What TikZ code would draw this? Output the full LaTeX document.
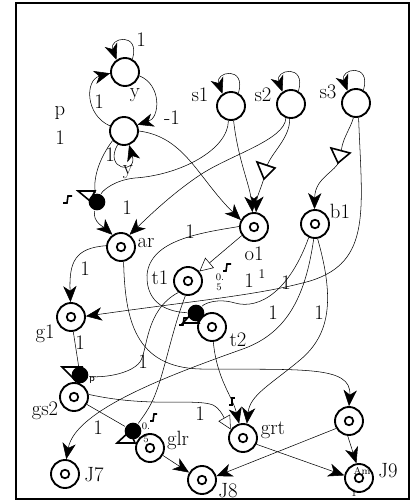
\documentclass[tikz,border=0pt]{standalone}
\usetikzlibrary{arrows.meta,backgrounds}
\begin{document}
\begin{tikzpicture}[x=0.75pt,y=-0.75pt, line width=1.4pt,
  place/.style={circle,draw,minimum size=21pt,inner sep=0pt,fill=white},
  tok/.style={place,path picture={\draw[line width=1.3pt] (path picture bounding box.center) circle (3.2pt);}},
  trans/.style={circle,fill=black,minimum size=12.5pt,inner sep=0pt},
  lbl/.style={font=\fontsize{15.5}{17}\selectfont,inner sep=0pt},
  sm/.style={font=\fontsize{7.5}{8}\selectfont,inner sep=0pt},
  arr/.style={-{Stealth[length=12pt,width=10pt,inset=3.5pt]}},
  oarr/.style={-{Triangle[open,length=10pt,width=10pt]}},
  otri/.style={draw,fill=white,line width=1.2pt},
  glyph/.style={line width=1.2pt},
]
\useasboundingbox (0,0) rectangle (412,502);
\draw[line width=1.6pt] (16,3) rectangle (409,499);

% places
\node[place] (T) at (125,72) {};
\node[place] (B) at (124,131) {};
\node[place] (s1) at (231,106) {};
\node[place] (s2) at (291,104) {};
\node[place] (s3) at (356,103) {};
\node[tok] (ar) at (121,247) {};
\node[tok] (o1) at (254,227) {};
\node[tok] (b1) at (315,224) {};
\node[tok] (t1) at (188,281) {};
\node[tok] (g1) at (71,317) {};
\node[tok] (t2) at (212,327) {};
\node[tok] (gs2) at (74,397) {};
\node[tok] (glr) at (150,448) {};
\node[tok] (J7) at (65,474) {};
\node[tok] (grt) at (243,438) {};
\node[tok] (J8) at (202,480) {};
\node[tok] (N) at (349,421) {};
\node[tok] (J9) at (359,478) {};

% transitions (with their open triangles)
\draw[otri] (78,191) -- (95,191) -- (90,201) -- cycle;
\node[trans] (D1) at (97,202) {};
\draw[otri] (183,323) -- (199,323) -- (193,312) -- cycle;
\node[trans] (D2) at (196,313) {};
\draw[otri] (62,367) -- (82,367) -- (76,381) -- cycle;
\node[trans] (D3) at (80,375) {};
\draw[otri] (117,443) -- (135,443) -- (130,431) -- cycle;
\node[trans] (D4) at (133,431) {};

\begin{pgfonlayer}{background}
% loops
\draw[arr] (T.60) .. controls +(8,-28) and +(-8,-22) .. (T.125);
\draw[arr] (s1.60) .. controls +(8,-28) and +(-8,-22) .. (s1.125);
\draw[arr] (s2.60) .. controls +(8,-28) and +(-8,-22) .. (s2.125);
\draw[arr] (s3.60) .. controls +(8,-28) and +(-8,-22) .. (s3.125);
\draw[arr] (T.-15) .. controls (162,85) and (160,118) .. (B.25);
\draw[arr] (B.160) .. controls (85,115) and (85,80) .. (T.185);
\draw[arr] (B.-115) .. controls (103,170) and (138,175) .. (B.-70);

% arcs
\draw[arr] (B.0) .. controls (185,137) and (198,178) .. (o1.152);
\draw[arr] (s1.-80) .. controls (238,160) and (250,185) .. (o1.96);
\draw[arr] (s2.-95) .. controls (290,140) and (268,155) .. (266,170) .. controls (263,185) and (257,195) .. (o1.82);
\draw (s1.-100) .. controls (228,150) and (180,175) .. (135,178) .. controls (115,180) and (103,190) .. (D1);
\draw[arr] (s2.-110) .. controls (285,140) and (230,155) .. (200,175) .. controls (170,195) and (145,220) .. (ar.55);
\draw (B.-140) .. controls (98,160) and (93,180) .. (D1);
\draw[arr] (D1) .. controls (92,222) and (105,228) .. (ar.125);
\draw[arr] (s3.-100) .. controls (350,130) and (341,140) .. (341,155) .. controls (340,172) and (315,175) .. (b1.92);
\draw[arr] (s3.-80) .. controls (362,210) and (372,262) .. (310,281) .. controls (260,295) and (200,300) .. (g1.3);
\draw[arr] (ar.175) .. controls (75,248) and (69,262) .. (g1.92);
\draw[arr] (ar.-80) .. controls (125,320) and (135,367) .. (200,369) .. controls (300,370) and (352,365) .. (N.90);
\draw[oarr] (o1.215) -- (t1.40);
\draw (o1.178) .. controls (200,233) and (150,240) .. (147,275) .. controls (146,305) and (170,312) .. (D2);
\draw (b1.-115) .. controls (290,290) and (260,310) .. (235,303) .. controls (218,298) and (205,303) .. (D2);
\draw[arr] (b1.-95) .. controls (305,300) and (285,335) .. (240,350) .. controls (170,375) and (75,410) .. (J7.85);
\draw[arr] (b1.-80) .. controls (335,300) and (330,335) .. (300,360) .. controls (270,385) and (250,395) .. (grt.75);
\draw (t1.-130) .. controls (145,310) and (148,350) .. (140,362) .. controls (130,375) and (100,378) .. (D3);
\draw (t1.-100) .. controls (172,330) and (165,370) .. (155,395) .. controls (150,408) and (142,418) .. (D4);
\draw (g1) -- (D3);
\draw (gs2) -- (D4);
\draw[oarr] (gs2.10) .. controls (150,408) and (195,398) .. (213,405) .. controls (220,409) and (222,414) .. (grt.145);
\draw[arr] (t2.-85) .. controls (217,380) and (232,395) .. (grt.105);
\draw[arr] (glr.-30) -- (J8.150);
\draw[arr] (grt.-25) -- (J9.170);
\draw[arr] (N.-150) -- (J8.15);
\draw[arr] (N.-95) -- (J9.100);
\end{pgfonlayer}

% open triangles on arcs
\draw[otri] (257,162) -- (275,168) -- (264,179) -- cycle;
\draw[otri] (331,148) -- (350,153) -- (338,163) -- cycle;
% glyphs
\draw[glyph] (63,203) -- (67,203) -- (68,196) -- (72,196);
\draw[glyph] (179,325) -- (183,325) -- (184,318) -- (187,318);
\draw[glyph] (223,271) -- (226,271) -- (227,264) -- (231,264);
\draw[glyph] (150,421) -- (153,421) -- (154,414) -- (157,414);
\draw[glyph] (229,405) -- (232,405) -- (232,398) -- (235,398);

% labels
\node[lbl] (lp) at (60,113) {p};
\node[lbl] (lp1) at (60,138) {1};
\node[lbl] (lT) at (141,40) {1};
\node[lbl] (ly1) at (135,95) {y};
\node[lbl] (lm1) at (172,118) {-1};
\node[lbl] (l11) at (99,102) {1};
\node[lbl] (lB1) at (110,155) {1};
\node[lbl] (ly2) at (128,172) {y};
\node[lbl] (ls1) at (200,95) {s1};
\node[lbl] (ls2) at (263,95) {s2};
\node[lbl] (ls3) at (328,92) {s3};
\node[lbl] (lar) at (146,243) {ar};
\node[lbl] (lo1) at (254,254) {o1};
\node[lbl] (lb1) at (340,211) {b1};
\node[lbl] (lt1) at (160,278) {t1};
\node[lbl] (lg1) at (45,334) {g1};
\node[lbl] (lt2) at (238,340) {t2};
\node[lbl] (lgs2) at (45,411) {gs2};
\node[lbl] (lglr) at (178,440) {glr};
\node[lbl] (lJ7) at (94,475) {J7};
\node[lbl] (lgrt) at (273,430) {grt};
\node[lbl] (lJ8) at (228,491) {J8};
\node[lbl] (lJ9) at (388,471) {J9};
\node[sm] (lAm) at (362,471) {Am};
\node[sm] (lAm1) at (354,493) {1};
\node[sm] (lz1) at (220,277) {0.};
\node[sm] (lz2) at (219,287) {5};
\node[sm] (lz3) at (146,426) {0.};
\node[sm] (lz4) at (146,439) {5};
\node[sm] (lz5) at (92,380) {\textsf{p}};
\node[lbl] (e1) at (127,208) {1};
\node[lbl] (e2) at (190,232) {1};
\node[lbl] (e3) at (85,269) {1};
\node[lbl] (e4) at (249,281) {1};
\node[sm,font=\fontsize{10}{11}\selectfont] (e4b) at (262,274) {1};
\node[lbl] (e5) at (286,283) {1};
\node[lbl] (e6) at (273,313) {1};
\node[lbl] (e7) at (319,313) {1};
\node[lbl] (e8) at (80,343) {1};
\node[lbl] (e9) at (143,362) {1};
\node[lbl] (e10) at (98,428) {1};
\node[lbl] (e11) at (200,414) {1};
\end{tikzpicture}
\end{document}
